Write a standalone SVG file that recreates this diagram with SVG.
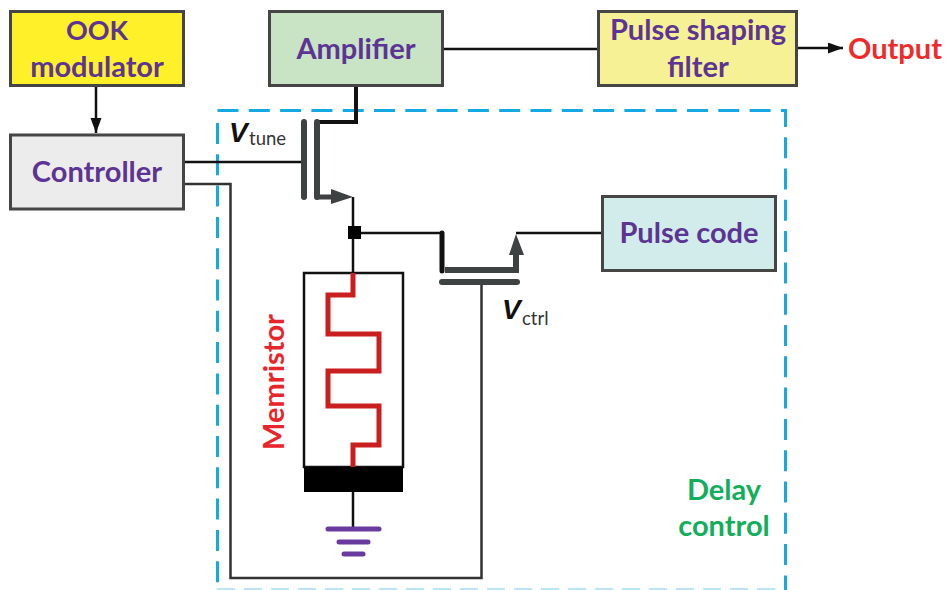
<svg xmlns="http://www.w3.org/2000/svg" width="947" height="590" viewBox="0 0 947 590">
<style>
.box{stroke:#454545;stroke-width:3}
.t{font-family:Lato,"Liberation Sans",sans-serif;font-weight:700;font-size:29px;fill:#5c3494;text-anchor:middle}
.w{fill:none;stroke:#111;stroke-width:2.500}
.d{fill:none;stroke:#3f4243;stroke-linecap:round}
.g{stroke:#6a3b9e;stroke-width:5;stroke-linecap:round}
.v{font-family:"Liberation Sans",sans-serif;font-weight:700;font-style:italic;font-size:28px;fill:#111}
.s{font-family:Lato,"Liberation Sans",sans-serif;font-size:18.500px;fill:#333}
</style>
<defs>
<marker id="a" markerUnits="userSpaceOnUse" markerWidth="16" markerHeight="12" refX="15" refY="5.500" orient="auto"><path d="M0 0L15 5.500L0 11Z" fill="#111"/></marker>
</defs>
<g id="delay-control">
<path d="M217.500 110.500H785.500V590" fill="none" stroke="#14a9e3" stroke-width="3" stroke-dasharray="21 10.300"/>
<path d="M217.500 123V586" fill="none" stroke="#14a9e3" stroke-width="3" stroke-dasharray="21 10.300"/>
<path d="M217 589H785" fill="none" stroke="#14a9e3" stroke-width="2" stroke-dasharray="18 9" opacity=".3"/>
<text class="t" x="724" y="500" style="fill:#13ae5b">Delay</text>
<text class="t" x="724" y="536" style="fill:#13ae5b">control</text>
</g>
<g id="connectors">
<path class="w" d="M96 86V133" marker-end="url(#a)"/>
<path class="w" d="M183 162H304"/>
<path d="M183 184H230.500V578H481.500V282" fill="none" stroke="#333" stroke-width="2.500"/>
<path class="w" d="M442 49H598"/>
<path class="w" d="M797 48H843" marker-end="url(#a)"/>
<path class="w" d="M353 197V273"/>
<path class="w" d="M353 233H441"/>
<path class="w" d="M516 233H602"/>
<path d="M316 122H356V86" fill="none" stroke="#111" stroke-width="4"/>
<path d="M442 233V271" fill="none" stroke="#111" stroke-width="5" stroke-linecap="round"/>
</g>
<g id="transistor-tune">
<path class="d" d="M304 122V197" stroke-width="6"/>
<path class="d" d="M317 122V197" stroke-width="6"/>
<path class="d" d="M317 197H335" stroke-width="5"/>
<path d="M331 189L353 197L331 204Z" fill="#3f4243"/>
</g>
<g id="transistor-ctrl">
<path d="M445 270H516V250" fill="none" stroke="#3f4243" stroke-width="6"/>
<path d="M509 255L516 234L524 255Z" fill="#3f4243"/>
<path class="d" d="M442 282H517" stroke-width="6"/>
</g>
<g id="junction"><rect x="348" y="226" width="13" height="13" fill="#000"/></g>
<g id="memristor">
<rect x="304" y="273" width="99" height="194" fill="#fff" stroke="#111" stroke-width="2.500"/>
<rect x="304" y="467" width="99" height="25" fill="#000"/>
<path d="M353 273V295H328V334H379V371H328V406H379V445H353V467" fill="none" stroke="#c9201f" stroke-width="5"/>
<text transform="translate(284 382) rotate(-90)" class="t" x="0" y="0" style="fill:#e8252a">Memristor</text>
</g>
<g id="ground">
<path class="w" d="M353 492V529"/>
<path class="g" d="M328 529H379"/>
<path class="g" d="M339 542H368"/>
<path class="g" d="M344 554H363"/>
</g>
<g id="ook-modulator">
<rect class="box" x="10.500" y="11.500" width="173" height="74" fill="#fff02a"/>
<text class="t" x="97" y="40" style="font-size:27px">OOK</text>
<text class="t" x="97" y="77">modulator</text>
</g>
<g id="controller">
<rect class="box" x="10.500" y="135" width="173" height="74" fill="#ececec"/>
<text class="t" x="97" y="182">Controller</text>
</g>
<g id="amplifier">
<rect class="box" x="269.500" y="11.500" width="173" height="74" fill="#c8e4c4"/>
<text class="t" x="356" y="59">Amplifier</text>
</g>
<g id="pulse-shaping-filter">
<rect class="box" x="598.500" y="11.500" width="198" height="74" fill="#f7f195"/>
<text class="t" x="698" y="40">Pulse shaping</text>
<text class="t" x="698" y="77">filter</text>
</g>
<g id="pulse-code">
<rect class="box" x="602.500" y="196.500" width="173" height="74" fill="#d2ecec"/>
<text class="t" x="689" y="243">Pulse code</text>
</g>
<g id="labels">
<text class="t" x="895" y="59" style="fill:#ee2a2a">Output</text>
<text class="v" x="229" y="142">V</text><text class="s" x="249" y="145">tune</text>
<text class="v" x="502" y="319">V</text><text class="s" x="522" y="325">ctrl</text>
</g>
</svg>
